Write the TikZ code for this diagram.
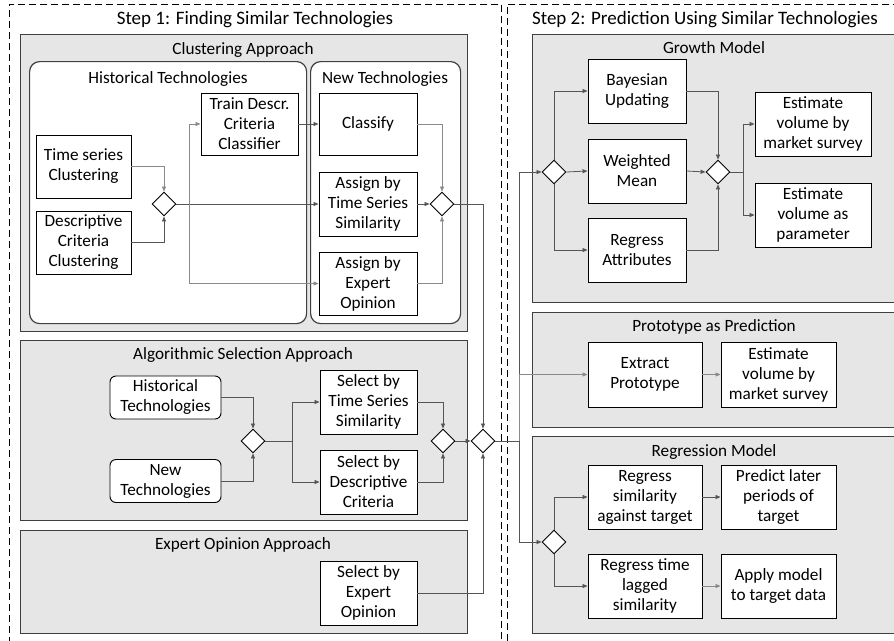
\documentclass[tikz,border=0pt]{standalone}
\usepackage{fontspec}
\setmainfont{Carlito}
\usetikzlibrary{shapes.geometric,arrows.meta}
\definecolor{panelfill}{HTML}{E6E6E6}
\definecolor{paneldraw}{HTML}{404040}
\definecolor{linedark}{HTML}{555555}
\definecolor{linelight}{HTML}{8A8A8A}
\newcommand\bxfont{\fontsize{17.2}{20}\selectfont}
\newcommand\ttlfont{\fontsize{19}{22}\selectfont}
\newcommand\pttlfont{\fontsize{17.2}{21}\selectfont}
\begin{document}
\begin{tikzpicture}[x=1pt,y=-1pt,
  stepframe/.style={draw=black, dash pattern=on 7pt off 4pt, line width=0.9pt, anchor=north west, inner sep=0pt},
  panel/.style={draw=paneldraw, fill=panelfill, line width=1.3pt, anchor=north west, inner sep=0pt},
  group/.style={draw=paneldraw, fill=white, line width=1.2pt, rounded corners=10pt, anchor=north west, inner sep=0pt},
  box/.style={draw=black, fill=white, line width=0.9pt, align=center, inner sep=0pt, font=\bxfont},
  rbox/.style={box, rounded corners=6pt},
  gate/.style={diamond, draw=black, fill=white, line width=0.9pt, minimum width=24pt, minimum height=24pt, inner sep=0pt},
  conn/.style={draw=linedark, line width=0.8pt, -{Triangle[length=5pt,width=4pt]}},
  connl/.style={draw=linelight, line width=0.8pt, -{Triangle[length=5pt,width=4pt]}},
  plain/.style={draw=linedark, line width=0.8pt},
  steptitle/.style={font=\ttlfont, inner sep=0pt},
  ptitle/.style={font=\pttlfont, inner sep=0pt}
]
\useasboundingbox (0,0) rectangle (894,640);
\clip (0,0) rectangle (894,640);
\fill[white] (0,0) rectangle (894,640);

% step frames
\node[stepframe, minimum width=492pt, minimum height=660pt] (step1) at (9,4) {};
\node[stepframe, minimum width=400pt, minimum height=660pt] (step2) at (507,4) {};
\node[steptitle] (step1t) at (255,20) {Step 1: Finding Similar Technologies};
\node[steptitle] (step2t) at (705,20) {Step 2: Prediction Using Similar Technologies};

% ---------- Clustering approach ----------
\node[panel, minimum width=447pt, minimum height=297pt] (clpanel) at (20,34) {};
\node[ptitle] (clt) at (243,50) {Clustering Approach};
\node[group, minimum width=277pt, minimum height=262pt] (histg) at (29,61) {};
\node[ptitle] (histgt) at (168,79) {Historical Technologies};
\node[group, minimum width=150pt, minimum height=262pt] (newg) at (310,61) {};
\node[ptitle] (newgt) at (385,79) {New Technologies};

\node[box, minimum width=97pt, minimum height=62pt] (train) at (249.5,124) {Train Descr.\\Criteria\\Classifier};
\node[box, minimum width=95pt, minimum height=63pt] (tsc) at (83.5,166.5) {Time series\\Clustering};
\node[box, minimum width=95pt, minimum height=63pt] (dcc) at (83.5,242.5) {Descriptive\\Criteria\\Clustering};
\node[gate] (d1) at (164,204) {};
\node[box, minimum width=98pt, minimum height=62pt] (classify) at (368,124) {Classify};
\node[box, minimum width=98pt, minimum height=64pt] (assignts) at (368,204) {Assign by\\Time Series\\Similarity};
\node[box, minimum width=98pt, minimum height=63pt] (assigneo) at (368,283.5) {Assign by\\Expert\\Opinion};
\node[gate] (d2) at (442,204) {};
\coordinate (b1) at (189,204);

\draw[connl] (tsc.east) -| (d1.north);
\draw[conn] (dcc.east) -| (d1.south);
\draw[conn] (d1.east) -- (assignts.west);
\draw[connl] (b1) |- (train.west);
\draw[connl] (b1) |- (assigneo.west);
\draw[conn] (train.east) -- (classify.west);
\draw[connl] (classify.east) -| (d2.north);
\draw[conn] (assignts.east) -- (d2.west);
\draw[connl] (assigneo.east) -| (d2.south);

% ---------- Algorithmic selection ----------
\node[panel, minimum width=447pt, minimum height=180pt] (alpanel) at (20,340) {};
\node[ptitle] (alt) at (243,355) {Algorithmic Selection Approach};
\node[rbox, minimum width=111pt, minimum height=43pt] (histt) at (165.5,397.5) {Historical\\Technologies};
\node[rbox, minimum width=111pt, minimum height=43pt] (newt) at (165.5,481) {New\\Technologies};
\node[gate] (d3) at (253,441) {};
\coordinate (b3) at (292,441);
\node[box, minimum width=97pt, minimum height=64pt] (selts) at (368.5,402) {Select by\\Time Series\\Similarity};
\node[box, minimum width=97pt, minimum height=64pt] (seldc) at (368.5,482) {Select by\\Descriptive\\Criteria};
\node[gate] (d4) at (443,441) {};

\draw[conn] (histt.east) -| (d3.north);
\draw[conn] (newt.east) -| (d3.south);
\draw[plain] (d3.east) -- (b3);
\draw[conn] (b3) |- (selts.west);
\draw[conn] (b3) |- (seldc.west);
\draw[conn] (selts.east) -| (d4.north);
\draw[conn] (seldc.east) -| (d4.south);

% ---------- Expert opinion ----------
\node[panel, minimum width=447pt, minimum height=103pt] (expanel) at (20,530) {};
\node[ptitle] (ext) at (243,545) {Expert Opinion Approach};
\node[box, minimum width=97pt, minimum height=64pt] (seleo) at (368.5,593) {Select by\\Expert\\Opinion};

% final merge
\node[gate] (dF) at (483,441) {};
\coordinate (b4) at (519,441);
\draw[conn] (d2.east) -| (dF.north);
\draw[conn] (d4.east) -- (dF.west);
\draw[conn] (seleo.east) -| (dF.south);
\draw[plain] (dF.east) -- (b4);

% ---------- Growth model ----------
\node[panel, minimum width=366pt, minimum height=268pt] (grpanel) at (532,34) {};
\node[ptitle] (grt) at (714,48) {Growth Model};
\node[gate] (dg1) at (554,172) {};
\node[box, minimum width=98pt, minimum height=64pt] (bayes) at (637,91) {Bayesian\\Updating};
\node[box, minimum width=98pt, minimum height=64pt] (wmean) at (637,171) {Weighted\\Mean};
\node[box, minimum width=98pt, minimum height=64pt] (regattr) at (637,250) {Regress\\Attributes};
\node[gate] (dg2) at (718,172) {};
\coordinate (b5) at (743,172);
\node[box, minimum width=116pt, minimum height=64pt] (estms) at (813,124) {Estimate\\volume by\\market survey};
\node[box, minimum width=116pt, minimum height=64pt] (estpar) at (813,215) {Estimate\\volume as\\parameter};

\draw[conn] (dg1.north) |- (bayes.west);
\draw[conn] (dg1.east) -- (wmean.west);
\draw[conn] (dg1.south) |- (regattr.west);
\draw[conn] (bayes.east) -| (dg2.north);
\draw[conn] (wmean.east) -- (dg2.west);
\draw[conn] (regattr.east) -| (dg2.south);
\draw[plain] (dg2.east) -- (b5);
\draw[conn] (b5) |- (estms.west);
\draw[conn] (b5) |- (estpar.west);

% ---------- Prototype as prediction ----------
\node[panel, minimum width=366pt, minimum height=115pt] (prpanel) at (532,312) {};
\node[ptitle] (prt) at (714,327) {Prototype as Prediction};
\node[box, minimum width=114pt, minimum height=65pt] (extract) at (645,374.5) {Extract\\Prototype};
\node[box, minimum width=115pt, minimum height=65pt] (estms2) at (778.5,374.5) {Estimate\\volume by\\market survey};
\draw[connl] (extract.east) -- (estms2.west);

% ---------- Regression model ----------
\node[panel, minimum width=366pt, minimum height=197pt] (rgpanel) at (532,436) {};
\node[ptitle] (rgt) at (714,452) {Regression Model};
\node[gate] (dr) at (554,542) {};
\node[box, minimum width=114pt, minimum height=64pt] (regsim) at (645,497) {Regress\\similarity\\against target};
\node[box, minimum width=115pt, minimum height=64pt] (predict) at (778.5,497) {Predict later\\periods of\\target};
\node[box, minimum width=114pt, minimum height=64pt] (regtime) at (645,586) {Regress time\\lagged\\similarity};
\node[box, minimum width=115pt, minimum height=64pt] (apply) at (778.5,586) {Apply model\\to target data};

\draw[conn] (dr.north) |- (regsim.west);
\draw[conn] (dr.south) |- (regtime.west);
\draw[conn] (regsim.east) -- (predict.west);
\draw[connl] (regtime.east) -- (apply.west);

% distribution line from final merge
\draw[conn] (b4) |- (dg1.west);
\draw[connl] (b4) |- (extract.west);
\draw[conn] (b4) |- (dr.west);
\end{tikzpicture}
\end{document}
